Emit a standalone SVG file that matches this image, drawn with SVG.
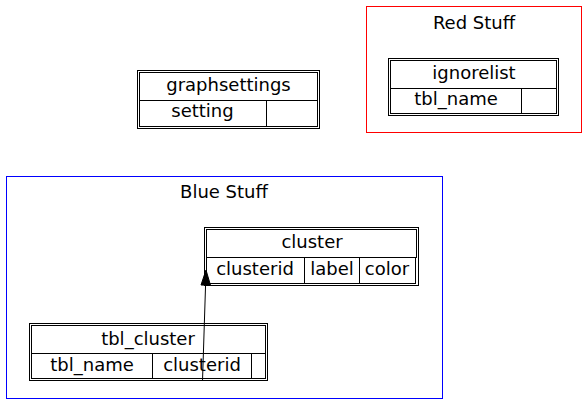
<svg xmlns="http://www.w3.org/2000/svg" width="588" height="404" viewBox="0 0 588 404">
<style>
rect{fill:none;stroke:#000;stroke-width:1}
text{font-family:"DejaVu Sans",sans-serif;font-size:18px;text-anchor:middle;fill:#000}
.red{stroke:#ff0000}
.blue{stroke:#0000ff}
</style>
<rect width="588" height="404" style="fill:#fff;stroke:none"/>
<g id="cluster_red">
<rect class="red" x="366.5" y="6.5" width="215" height="126"/>
<text x="474" y="28.5">Red Stuff</text>
</g>
<g id="cluster_blue">
<rect class="blue" x="6.5" y="176.5" width="436" height="222"/>
<text x="224" y="197.5">Blue Stuff</text>
</g>
<g id="graphsettings">
<rect x="137.5" y="70.5" width="182" height="58"/>
<rect x="139.5" y="72.5" width="178" height="28"/>
<rect x="139.5" y="100.5" width="127" height="26"/>
<rect x="266.5" y="100.5" width="51" height="26"/>
<text x="228.5" y="91">graphsettings</text>
<text x="202.5" y="117">setting</text>
</g>
<g id="ignorelist">
<rect x="388.5" y="58.5" width="170" height="57"/>
<rect x="390.5" y="60.5" width="166" height="28"/>
<rect x="390.5" y="88.5" width="131" height="25"/>
<rect x="521.5" y="88.5" width="35" height="25"/>
<text x="474" y="79">ignorelist</text>
<text x="456" y="105">tbl_name</text>
</g>
<g id="cluster">
<rect x="204.5" y="227.5" width="214" height="58"/>
<rect x="206.5" y="229.5" width="210" height="28"/>
<rect x="206.5" y="257.5" width="98" height="26"/>
<rect x="304.5" y="257.5" width="55" height="26"/>
<rect x="359.5" y="257.5" width="56" height="26"/>
<text x="312" y="248">cluster</text>
<text x="255" y="275">clusterid</text>
<text x="332" y="275">label</text>
<text x="387" y="275">color</text>
</g>
<g id="tbl_cluster">
<rect x="29.5" y="323.5" width="238" height="57"/>
<rect x="31.5" y="325.5" width="234" height="28"/>
<rect x="31.5" y="353.5" width="121" height="25"/>
<rect x="152.5" y="353.5" width="99" height="25"/>
<rect x="251.5" y="353.5" width="14" height="25"/>
<text x="148" y="345">tbl_cluster</text>
<text x="92" y="371">tbl_name</text>
<text x="202" y="371">clusterid</text>
</g>
<g id="edges">
<path d="M202.5,381 L205.6,284" fill="none" stroke="#000" stroke-width="1"/>
<polygon points="206,270 201,285 210.5,285.3" fill="#000" stroke="#000" stroke-width="1"/>
</g>
</svg>
